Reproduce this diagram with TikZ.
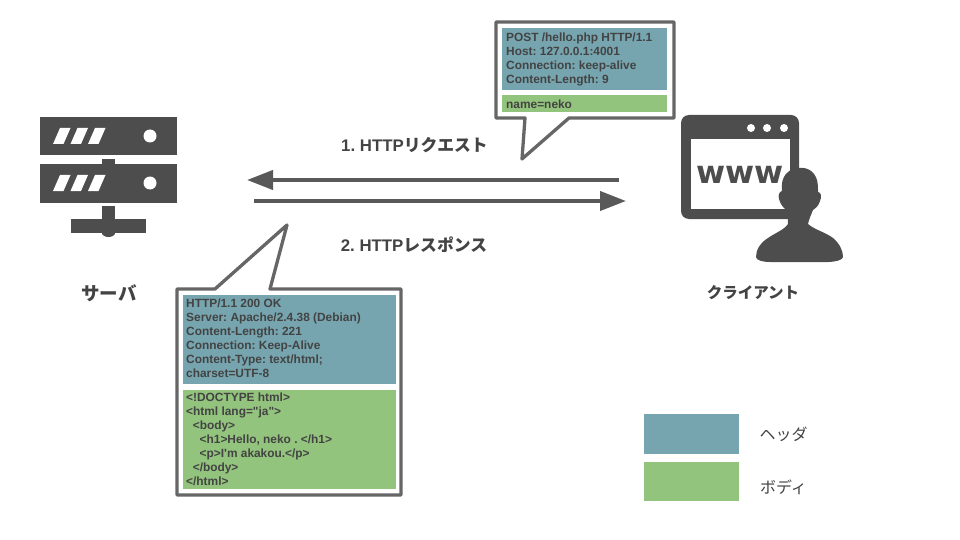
\documentclass[tikz,border=0pt]{standalone}
\usepackage{fontspec}
\usetikzlibrary{arrows.meta}
\newfontfamily\latf{Liberation Sans}
\newfontfamily\jpf{Noto Sans CJK JP}
\newfontfamily\wwwf{DejaVu Sans}
\definecolor{hdr}{HTML}{76A5AF}
\definecolor{bdy}{HTML}{93C47D}
\definecolor{ink}{HTML}{434343}
\definecolor{frame}{HTML}{666666}
\definecolor{icon}{HTML}{4D4D4D}
\definecolor{arr}{HTML}{595959}
\tikzset{
  callout/.style={draw=frame,fill=white,line width=3.3pt,line join=round},
  hdrbox/.style={fill=hdr},
  bdybox/.style={fill=bdy},
  msg/.style={anchor=north west,inner sep=0pt,align=left,text=ink,font=\frenchspacing\latf\bfseries\fontsize{11.9}{14}\selectfont},
  lbl/.style={inner sep=0pt,text=ink,font=\frenchspacing\latf\bfseries\fontsize{16.8}{19}\selectfont},
  jpbig/.style={inner sep=0pt,text=ink,font=\jpf\bfseries\fontsize{15.5}{19}\selectfont},
  jpsrv/.style={inner sep=0pt,text=ink,font=\jpf\bfseries\fontsize{18.5}{22}\selectfont},
  jpleg/.style={inner sep=0pt,text=ink,font=\jpf\fontsize{16}{19}\selectfont},
  flow/.style={draw=arr,line width=4pt,-{Triangle[length=26pt,width=19pt,fill=arr]}},
  iconfill/.style={fill=icon},
  slash/.style={fill=white},
}
\begin{document}
\begin{tikzpicture}[x=1pt,y=-1pt]
\useasboundingbox (0,0) rectangle (960,540);
% server
\fill[iconfill] (40,117) rectangle (177,155);
\fill[iconfill] (40,164) rectangle (177,203);
\fill[iconfill] (102,159) rectangle (115,164);
\fill[iconfill] (102,206) rectangle (115,220);
\fill[iconfill] (71,219) rectangle (146,233);
\fill[iconfill] (102,233) arc[start angle=180,end angle=360,x radius=6.5,y radius=-4] -- cycle;
\foreach \dy in {0,47}{
  \foreach \dx in {0,17.5,35}{
    \fill[slash,shift={(\dx,\dy)}] (53,144) -- (63.5,144) -- (70.5,128) -- (60,128) -- cycle;
  }
  \fill[slash] (150,136+\dy) circle[radius=6.5];
}
% client window
\fill[iconfill,rounded corners=8pt] (681,115) rectangle (799,219);
\fill[white] (691,139) rectangle (790,209);
\foreach \x in {751,767,784}{\fill[white] (\x,128) circle[radius=4];}
\node[inner sep=0pt,anchor=base west,text=icon,font=\wwwf\bfseries\fontsize{31.5}{36}\selectfont] (www) at (696.5,183.5) {www};
% person
\fill[iconfill] (798,168)
  .. controls (806,167) and (814,170) .. (817,180)
  .. controls (818,184) and (818,188) .. (818,192)
  .. controls (821,192) and (822,197) .. (820,201)
  .. controls (819,205) and (816,208) .. (813,210)
  .. controls (811,215) and (809,219) .. (808,224)
  .. controls (815,230) and (825,232) .. (833,238)
  .. controls (840,244) and (843,251) .. (843,257)
  .. controls (843,260) and (835,262) .. (828,262)
  -- (770,262)
  .. controls (762,262) and (756,260) .. (756,257)
  .. controls (756,250) and (760,243) .. (768,238)
  .. controls (775,233) and (784,230) .. (788,224)
  .. controls (788,218) and (787,212) .. (785,209)
  .. controls (782,206) and (780,203) .. (779,199)
  .. controls (778,195) and (779,192) .. (782,191)
  .. controls (781,184) and (782,170) .. (798,168) -- cycle;
% arrows
\coordinate (reqFrom) at (619,180);
\coordinate (reqTo) at (247,180);
\coordinate (resFrom) at (254,201);
\coordinate (resTo) at (626,201);
\draw[flow] (reqFrom) -- (reqTo);
\draw[flow] (resFrom) -- (resTo);
\node[lbl] (reqlabel) at (414.5,145) {1. HTTP{\jpf リクエスト}};
\node[lbl] (reslabel) at (414,245) {2. HTTP{\jpf レスポンス}};
% request callout
\draw[callout] (496,22) -- (674,22) -- (674,118) -- (569,118) -- (522,159) -- (525,118) -- (496,118) -- cycle;
\fill[hdrbox] (502,28) rectangle (667,90);
\fill[bdybox] (502,95) rectangle (667,112);
\node[msg] (reqhead) at (506,33) {POST /hello.php HTTP/1.1\\Host: 127.0.0.1:4001\\Connection: keep-alive\\Content-Length: 9};
\node[msg] (reqbody) at (506,100) {name=neko};
% response callout
\draw[callout] (177,289) -- (215,289) -- (287,225) -- (270,289) -- (401,289) -- (401,495) -- (177,495) -- cycle;
\fill[hdrbox] (183,295) rectangle (396,384);
\fill[bdybox] (183,390) rectangle (396,489);
\node[msg] (reshead) at (186,298.5) {HTTP/1.1 200 OK\\Server: Apache/2.4.38 (Debian)\\Content-Length: 221\\Connection: Keep-Alive\\Content-Type: text/html;\\charset=UTF-8};
\node[msg] (resbody) at (186,392.7) {<!DOCTYPE html>\\<html lang="ja">\\\hspace*{6.6pt}<body>\\\hspace*{13.5pt}<h1>Hello, neko . </h1>\\\hspace*{13.5pt}<p>I'm akakou.</p>\\\hspace*{6.6pt}</body>\\</html>};
% captions
\node[jpsrv] (server) at (109,293) {サーバ};
\node[jpbig] (client) at (753,293) {クライアント};
% legend
\fill[hdrbox] (644,414) rectangle (739,454);
\fill[bdybox] (644,462) rectangle (739,501);
\node[jpleg] (leghdr) at (783.5,434) {ヘッダ};
\node[jpleg] (legbdy) at (783.5,487) {ボディ};
\end{tikzpicture}
\end{document}
